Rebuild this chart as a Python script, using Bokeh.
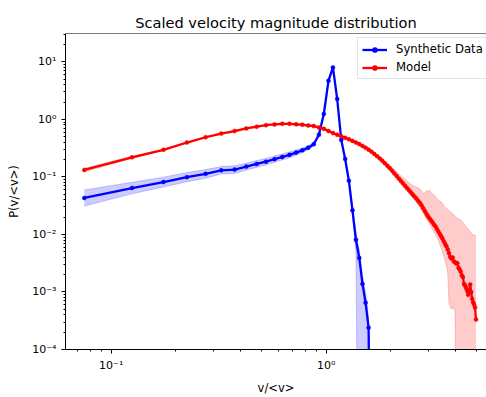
from bokeh.plotting import figure
from bokeh.models import (Range1d, FixedTicker, CustomJSTickFormatter, Legend,
                          LegendItem, Span, ColumnDataSource)
from bokeh.embed import file_html
from bokeh.resources import INLINE

# ---------------- data ----------------
speed = [0.075, 0.125, 0.175, 0.225, 0.275, 0.325, 0.375, 0.425, 0.475, 0.525,
         0.575, 0.625, 0.675, 0.725, 0.775, 0.825, 0.875, 0.925, 0.975, 1.025,
         1.075, 1.125, 1.175, 1.225, 1.275, 1.325, 1.375, 1.425, 1.475, 1.525,
         1.575, 1.625, 1.675, 1.725, 1.775, 1.825, 1.875, 1.925, 1.975, 2.025,
         2.075, 2.125, 2.175, 2.225, 2.275, 2.325, 2.375, 2.425, 2.475, 2.525,
         2.575, 2.625, 2.675, 2.725, 2.775, 2.825, 2.875, 2.925, 2.975, 3.025,
         3.075, 3.125, 3.175, 3.225, 3.275, 3.325, 3.375, 3.425, 3.475, 3.525,
         3.575, 3.625, 3.675, 3.725, 3.775, 3.825, 3.875, 3.925, 3.975, 4.025,
         4.075, 4.125, 4.175, 4.225, 4.275, 4.325, 4.375, 4.425, 4.475, 4.525,
         4.575, 4.625, 4.675, 4.725, 4.775, 4.825, 4.875, 4.925, 4.975]

synth_p = [0.043, 0.064, 0.0815, 0.099, 0.113, 0.130, 0.134, 0.151, 0.168, 0.184,
           0.203, 0.222, 0.242, 0.265, 0.290, 0.322, 0.370, 0.540, 1.24, 4.70,
           8.00, 2.26, 0.440, 0.205, 0.086, 0.0262, 0.0081, 0.0039, 0.00138, 0.00065,
           0.00024, 0.0]
synth_hi = [0.0593, 0.0806, 0.0991, 0.119, 0.134, 0.151, 0.156, 0.173, 0.193, 0.209,
            0.230, 0.249, 0.272, 0.294, 0.318, 0.349, 0.397, 0.565, 1.28, 4.81,
            8.18, 2.34, 0.461, 0.220, 0.0965, 0.0315, 0.0107, 0.0055, 0.00195, 0.00096,
            0.00036, 0.0]
synth_lo = [0.0312, 0.0508, 0.0670, 0.0824, 0.0950, 0.112, 0.115, 0.132, 0.146, 0.162,
            0.179, 0.198, 0.216, 0.239, 0.265, 0.297, 0.345, 0.516, 1.20, 4.59,
            7.82, 2.18, 0.420, 0.191, 0.0767, 0.0218, 0.0051, 0.0, 0.0, 0.0,
            0.0, 0.0]

model_p = [0.132, 0.219, 0.296, 0.396, 0.489, 0.566, 0.627, 0.697, 0.745, 0.794,
           0.817, 0.838, 0.836, 0.822, 0.807, 0.785, 0.764, 0.724, 0.684, 0.627,
           0.578, 0.541, 0.507, 0.478, 0.451, 0.423, 0.396, 0.372, 0.346, 0.321,
           0.298, 0.275, 0.250, 0.229, 0.209, 0.190, 0.172, 0.156, 0.142, 0.128,
           0.115, 0.104, 0.0938, 0.0851, 0.0773, 0.0705, 0.0644, 0.0590, 0.0541, 0.0495,
           0.0456, 0.0420, 0.0385, 0.0356, 0.0322, 0.0286, 0.0256, 0.0230, 0.0208, 0.0190,
           0.0175, 0.0161, 0.0148, 0.0137, 0.0124, 0.0112, 0.0102, 0.00927, 0.00845, 0.00757,
           0.00682, 0.00621, 0.00548, 0.00469, 0.00406, 0.00380, 0.00398, 0.00339, 0.00327, 0.00313,
           0.00316, 0.00263, 0.00247, 0.00224, 0.00193, 0.00182, 0.00138, 0.00129, 0.00117, 0.00105,
           0.000891, 0.00105, 0.00135, 0.00100, 0.000759, 0.000661, 0.000603, 0.000537, 0.000331]
model_hi = [0.1415, 0.229, 0.304, 0.407, 0.503, 0.582, 0.645, 0.717, 0.766, 0.816,
            0.840, 0.861, 0.859, 0.845, 0.830, 0.807, 0.785, 0.744, 0.703, 0.645,
            0.594, 0.556, 0.521, 0.491, 0.464, 0.435, 0.407, 0.382, 0.356, 0.330,
            0.306, 0.283, 0.257, 0.235, 0.215, 0.204, 0.186, 0.171, 0.159, 0.147,
            0.134, 0.122, 0.113, 0.104, 0.0973, 0.0908, 0.0849, 0.0796, 0.0747, 0.0715,
            0.0690, 0.0666, 0.0639, 0.0619, 0.0573, 0.0513, 0.0525, 0.0575, 0.0562, 0.0589,
            0.0537, 0.0501, 0.0490, 0.0447, 0.0417, 0.0398, 0.0380, 0.0372, 0.0347, 0.0316,
            0.0295, 0.0282, 0.0269, 0.0257, 0.0251, 0.0240, 0.0229, 0.0219, 0.0209, 0.0200,
            0.0191, 0.0186, 0.0182, 0.0178, 0.0170, 0.0162, 0.0155, 0.0145, 0.0135, 0.0129,
            0.0123, 0.0117, 0.0112, 0.0107, 0.0100, 0.0100, 0.00977, 0.00955, 0.00955]
model_lo = [0.1232, 0.209, 0.288, 0.385, 0.476, 0.551, 0.610, 0.678, 0.725, 0.772,
            0.795, 0.815, 0.813, 0.800, 0.785, 0.764, 0.743, 0.704, 0.665, 0.610,
            0.562, 0.526, 0.493, 0.465, 0.439, 0.411, 0.385, 0.362, 0.337, 0.312,
            0.290, 0.268, 0.243, 0.223, 0.203, 0.184, 0.166, 0.150, 0.136, 0.122,
            0.109, 0.0982, 0.0875, 0.0785, 0.0705, 0.0636, 0.0574, 0.0526, 0.0477, 0.0431,
            0.0397, 0.0362, 0.0328, 0.0300, 0.0268, 0.0236, 0.0208, 0.0187, 0.0167, 0.0151,
            0.0136, 0.0122, 0.0110, 0.00993, 0.00875, 0.00776, 0.00675, 0.00585, 0.00498, 0.00416,
            0.00342, 0.00284, 0.00218, 0.00063, 0.00056, 0.0005, 0.00056, 0.0005, 0.00045, 0.0,
            0.0, 0.0, 0.0, 0.0, 0.0, 0.0, 0.0, 0.0, 0.0, 0.0,
            0.0, 0.0, 0.0, 0.0, 0.0, 0.0, 0.0, 0.0, 0.0]

x_major = [0.1, 1.0]
x_minor = [0.07, 0.08, 0.09, 0.2, 0.3, 0.4, 0.5, 0.6, 0.7, 0.8, 0.9, 2, 3, 4, 5]
y_major = [1e-4, 1e-3, 1e-2, 1e-1, 1e0, 1e1]
y_minor = [m * 10.0 ** e for e in range(-4, 2) for m in range(2, 10) if m * 10.0 ** e < 31]

assert len(speed) == len(model_p) == len(model_hi) == len(model_lo) == 99
assert len(synth_p) == len(synth_hi) == len(synth_lo) == 32

# log axes cannot show zero: clip like matplotlib does
FLOOR = 1e-9


def clip(a):
    return [max(v, FLOOR) for v in a]


synth_v = speed[:len(synth_p)]
src_s = ColumnDataSource(dict(x=synth_v, y=clip(synth_p), hi=clip(synth_hi), lo=clip(synth_lo)))
src_m = ColumnDataSource(dict(x=speed, y=clip(model_p), hi=clip(model_hi), lo=clip(model_lo)))

FONT = "DejaVu Sans"

p = figure(width=486, height=397, x_axis_type="log", y_axis_type="log",
           x_range=Range1d(0.0613, 5.567), y_range=Range1d(1e-4, 31.1),
           output_backend="svg", toolbar_location=None,
           min_border_left=65, min_border_right=0, min_border_top=33, min_border_bottom=44)

p.title.text = "Scaled velocity magnitude distribution"
p.title.text_font = FONT
p.title.text_font_size = "14.6px"
p.title.text_font_style = "normal"
p.title.text_color = "black"
p.title.align = "center"
p.title.offset = 2
p.title.standoff = 6

p.xgrid.visible = False
p.ygrid.visible = False
p.outline_line_color = None
p.background_fill_color = "white"
p.border_fill_color = "white"

# top spine (the right one is cropped away in the reference)
p.add_layout(Span(location=31.1, dimension="width", line_color="black", line_width=1))

fmt = CustomJSTickFormatter(code="""
const sup = {'-':'\u207b','0':'\u2070','1':'\u00b9','2':'\u00b2','3':'\u00b3',
             '4':'\u2074','5':'\u2075','6':'\u2076','7':'\u2077','8':'\u2078','9':'\u2079'};
const e = Math.round(Math.log10(tick));
return '10' + String(e).split('').map(c => sup[c]).join('');
""")

for ax, maj, mnr in ((p.xaxis, x_major, x_minor), (p.yaxis, y_major, y_minor)):
    ax.ticker = FixedTicker(ticks=maj, minor_ticks=mnr)
    ax.formatter = fmt
    ax.major_tick_out = 4
    ax.major_tick_in = 0
    ax.minor_tick_out = 2
    ax.minor_tick_in = 0
    ax.axis_line_color = "black"
    ax.major_tick_line_color = "black"
    ax.minor_tick_line_color = "black"
    ax.major_label_text_font = FONT
    ax.major_label_text_font_size = "11px"
    ax.major_label_text_color = "black"
    ax.axis_label_text_font = FONT
    ax.axis_label_text_font_size = "11.5px"
    ax.axis_label_text_font_style = "normal"
    ax.axis_label_text_color = "black"

p.xaxis.axis_label = "v/<v>"
p.yaxis.axis_label = "P(v/<v>)"
p.xaxis.axis_label_standoff = 6
p.yaxis.axis_label_standoff = 8

# synthetic data
p.varea(x="x", y1="lo", y2="hi", source=src_s, fill_color="blue", fill_alpha=0.2)
p.line(x="x", y="hi", source=src_s, line_color="blue", line_alpha=0.2, line_width=1)
p.line(x="x", y="lo", source=src_s, line_color="blue", line_alpha=0.2, line_width=1)
s_line = p.line(x="x", y="y", source=src_s, line_color="blue", line_width=2.3)
s_dots = p.scatter(x="x", y="y", source=src_s, size=4, fill_color="blue", line_color="blue",
                   line_width=0.5)

# model
p.varea(x="x", y1="lo", y2="hi", source=src_m, fill_color="red", fill_alpha=0.2)
p.line(x="x", y="hi", source=src_m, line_color="red", line_alpha=0.2, line_width=1)
p.line(x="x", y="lo", source=src_m, line_color="red", line_alpha=0.2, line_width=1)
m_line = p.line(x="x", y="y", source=src_m, line_color="red", line_width=2.3)
m_dots = p.scatter(x="x", y="y", source=src_m, size=4, fill_color="red", line_color="red",
                   line_width=0.5)

legend = Legend(items=[LegendItem(label="Synthetic Data", renderers=[s_line, s_dots]),
                       LegendItem(label="Model", renderers=[m_line, m_dots])],
                location=(292, 270))
legend.label_text_font = FONT
legend.label_text_font_size = "11.7px"
legend.label_text_color = "black"
legend.glyph_width = 25
legend.glyph_height = 13
legend.label_height = 13
legend.label_standoff = 9
legend.spacing = 4
legend.padding = 4
legend.margin = 0
legend.border_line_color = "#cccccc"
legend.border_line_width = 1
legend.background_fill_color = "white"
legend.background_fill_alpha = 0.8
p.add_layout(legend)

open("out.html", "w").write(file_html(p, INLINE))
